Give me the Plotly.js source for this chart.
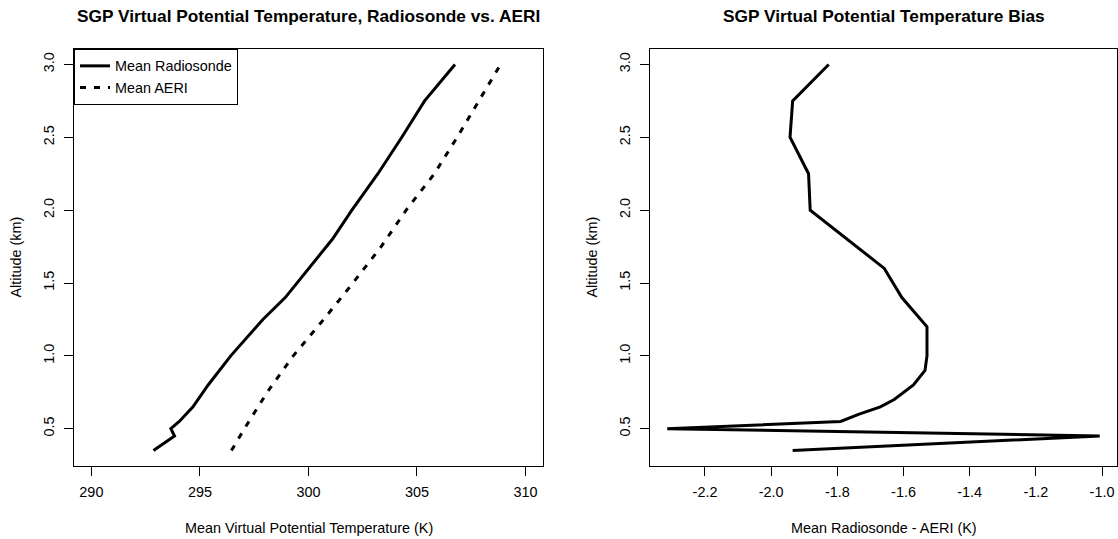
<!DOCTYPE html>
<html>
<head>
<meta charset="utf-8">
<script src="https://cdn.plot.ly/plotly-3.0.1.min.js"></script>
<style>html,body{margin:0;padding:0;background:#fff;}#chart{width:1118px;height:539px;}</style>
</head>
<body>
<div id="chart"></div>
<script>
// ---- Data ----
const altRadiosonde = [0.35, 0.45, 0.5, 0.55, 0.65, 0.8, 1.0, 1.25, 1.4, 1.65, 1.8, 2.0, 2.25, 2.5, 2.75, 3.0];
const meanRadiosonde = [292.86, 293.83, 293.66, 294.05, 294.68, 295.38, 296.42, 297.9, 298.93, 300.28, 301.1, 302.0, 303.2, 304.3, 305.35, 306.75];

const altAERI = [0.35, 0.5, 0.75, 1.0, 1.25, 1.5, 1.75, 2.0, 2.25, 2.5, 2.75, 3.0];
const meanAERI = [296.45, 297.05, 298.1, 299.3, 300.7, 302.05, 303.35, 304.5, 305.8, 306.85, 307.85, 308.85];

const altBias = [0.35, 0.45, 0.5, 0.55, 0.6, 0.65, 0.7, 0.8, 0.9, 1.0, 1.2, 1.4, 1.6, 2.0, 2.25, 2.5, 2.75, 3.0];
const meanBias = [-1.935, -1.007, -2.314, -1.79, -1.734, -1.67, -1.628, -1.570, -1.535, -1.529, -1.529, -1.605, -1.658, -1.882, -1.887, -1.943, -1.935, -1.826];

const leftXTicks = [290, 295, 300, 305, 310];
const leftXTickText = ["290", "295", "300", "305", "310"];
const rightXTicks = [-2.2, -2.0, -1.8, -1.6, -1.4, -1.2, -1.0];
const rightXTickText = ["-2.2", "-2.0", "-1.8", "-1.6", "-1.4", "-1.2", "-1.0"];
const altTicks = [0.5, 1.0, 1.5, 2.0, 2.5, 3.0];
const altTickText = ["0.5", "1.0", "1.5", "2.0", "2.5", "3.0"];

const seriesNames = ["Mean Radiosonde", "Mean AERI"];
const leftTitle = "SGP Virtual Potential Temperature, Radiosonde vs. AERI";
const rightTitle = "SGP Virtual Potential Temperature Bias";
const leftXLabel = "Mean Virtual Potential Temperature (K)";
const rightXLabel = "Mean Radiosonde - AERI (K)";
const yLabel = "Altitude (km)";

// ---- Chart ----
const FONT = "Liberation Sans, Arial, Helvetica, sans-serif";
const W = 1118, H = 539;
const M = {l: 74, r: 1, t: 49, b: 73};
const PW = W - M.l - M.r, PH = H - M.t - M.b;
const px = x => (x - M.l) / PW;
const py = y => (H - M.b - y) / PH;

const traces = [
  {x: meanRadiosonde, y: altRadiosonde, name: seriesNames[0], type: "scatter", mode: "lines",
   line: {color: "#000", width: 3}, xaxis: "x", yaxis: "y"},
  {x: meanAERI, y: altAERI, name: seriesNames[1], type: "scatter", mode: "lines",
   line: {color: "#000", width: 3, dash: "6px,8px"}, xaxis: "x", yaxis: "y"},
  {x: meanBias, y: altBias, name: "Bias", type: "scatter", mode: "lines", showlegend: false,
   line: {color: "#000", width: 3}, xaxis: "x2", yaxis: "y2"}
];

const axisCommon = {
  showline: true, mirror: true, linecolor: "#000", linewidth: 1,
  ticks: "outside", ticklen: 9, tickwidth: 1, tickcolor: "#000",
  showgrid: false, zeroline: false, fixedrange: true,
  tickfont: {family: FONT, size: 14.4, color: "#000"},
  ticklabelstandoff: 4
};

const layout = {
  width: W, height: H,
  margin: M,
  paper_bgcolor: "#fff", plot_bgcolor: "#fff",
  showlegend: true,
  legend: {x: 0, y: 1, xref: "paper", yref: "paper", xanchor: "left", yanchor: "top",
           bordercolor: "#000", borderwidth: 1, bgcolor: "#fff",
           font: {family: FONT, size: 14.4, color: "#000"}, itemwidth: 30,
           entrywidth: 172, entrywidthmode: "pixels", tracegroupgap: 0},
  xaxis: Object.assign({}, axisCommon, {domain: [0, px(542.9)], range: [289.2, 310.8],
          tickvals: leftXTicks, ticktext: leftXTickText, anchor: "y"}),
  yaxis: Object.assign({}, axisCommon, {domain: [0, 1], range: [0.244, 3.106],
          tickvals: altTicks, ticktext: altTickText, tickangle: -90, anchor: "x"}),
  xaxis2: Object.assign({}, axisCommon, {domain: [px(650), 1], range: [-2.3662, -0.9547],
          tickvals: rightXTicks, ticktext: rightXTickText, anchor: "y2"}),
  yaxis2: Object.assign({}, axisCommon, {domain: [0, 1], range: [0.244, 3.106],
          tickvals: altTicks, ticktext: altTickText, tickangle: -90, anchor: "x2"}),
  annotations: [
    {text: leftTitle, xref: "paper", yref: "paper", x: px(308.6), y: py(16), xanchor: "center", yanchor: "middle",
     showarrow: false, font: {family: FONT, size: 17.3, color: "#000", weight: "bold"}},
    {text: rightTitle, xref: "paper", yref: "paper", x: px(883.5), y: py(16), xanchor: "center", yanchor: "middle",
     showarrow: false, font: {family: FONT, size: 17.3, color: "#000", weight: "bold"}},
    {text: leftXLabel, xref: "paper", yref: "paper", x: px(308.6), y: py(528), xanchor: "center", yanchor: "middle",
     showarrow: false, font: {family: FONT, size: 14.4, color: "#000"}},
    {text: rightXLabel, xref: "paper", yref: "paper", x: px(883.5), y: py(528), xanchor: "center", yanchor: "middle",
     showarrow: false, font: {family: FONT, size: 14.4, color: "#000"}},
    {text: yLabel, xref: "paper", yref: "paper", x: px(15), y: 0.5, xanchor: "center", yanchor: "middle", textangle: -90,
     showarrow: false, font: {family: FONT, size: 14.4, color: "#000"}},
    {text: yLabel, xref: "paper", yref: "paper", x: px(591), y: 0.5, xanchor: "center", yanchor: "middle", textangle: -90,
     showarrow: false, font: {family: FONT, size: 14.4, color: "#000"}}
  ]
};

Plotly.newPlot("chart", traces, layout, {displayModeBar: false, staticPlot: true});
</script>
</body>
</html>
